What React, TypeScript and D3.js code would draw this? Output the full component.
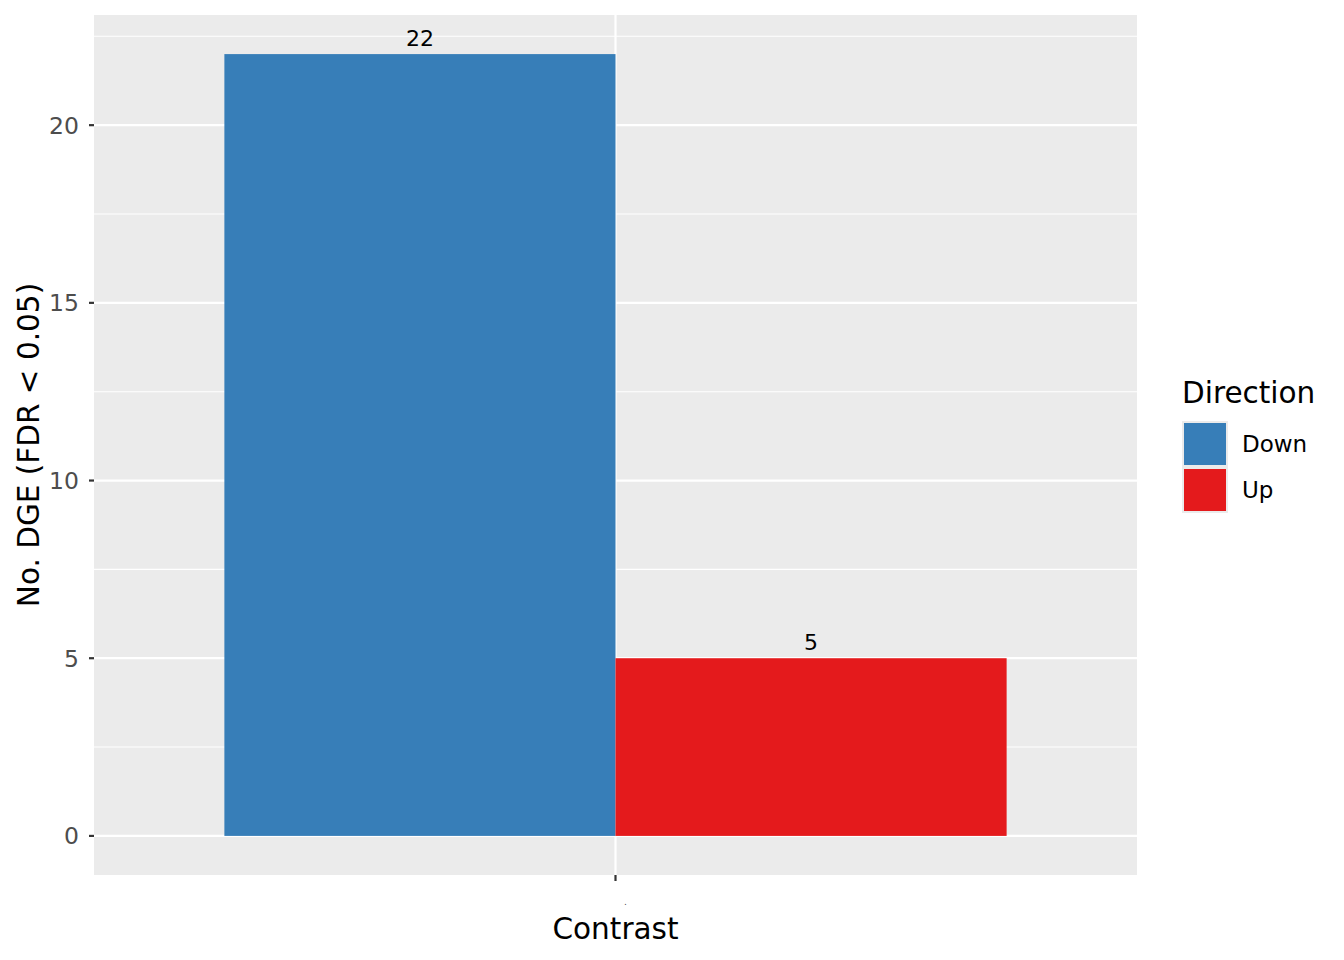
import React from "react";
import * as d3 from "d3";

const categories = [""];
const directions = ["Down", "Up"];
const values = [22, 5];
const colors = ["#377EB8", "#E41A1C"];
const yTicks = [0, 5, 10, 15, 20];
const yMinor = [2.5, 7.5, 12.5, 17.5, 22.5];

export default function App() {
  const W = 1344, H = 960;
  const left = 94, right = 1137, top = 15, bottom = 875;
  const y = d3.scaleLinear().domain([-1.1, 23.1]).range([bottom, top]);
  const x = d3.scaleLinear().domain([0.4, 1.6]).range([left, right]);
  const dodge = d3.scaleBand().domain(directions).range([0.55, 1.45]);
  const font = "DejaVu Sans, Liberation Sans, sans-serif";
  return (
    <div style={{ margin: -8 }}>
      <svg width={W} height={H} style={{ display: "block", fontFamily: font }}>
        <rect x={0} y={0} width={W} height={H} fill="#fff" />
        <rect x={left} y={top} width={right - left} height={bottom - top} fill="#EBEBEB" />
        {yMinor.map((t) => (
          <line key={"m" + t} x1={left} x2={right} y1={y(t)} y2={y(t)} stroke="#fff" strokeWidth={1.1} />
        ))}
        {yTicks.map((t) => (
          <line key={"g" + t} x1={left} x2={right} y1={y(t)} y2={y(t)} stroke="#fff" strokeWidth={2.2} />
        ))}
        {categories.map((c, i) => (
          <line key={"v" + i} x1={x(i + 1)} x2={x(i + 1)} y1={top} y2={bottom} stroke="#fff" strokeWidth={2.2} />
        ))}
        {directions.map((d, i) => {
          const x0 = x(dodge(d)!);
          const x1 = x(dodge(d)! + dodge.bandwidth());
          return (
            <g key={d}>
              <rect x={x0} y={y(values[i])} width={x1 - x0} height={y(0) - y(values[i])} fill={colors[i]} />
              <text x={(x0 + x1) / 2} y={y(values[i]) - 8} textAnchor="middle" fontSize={22} fill="#000">
                {values[i]}
              </text>
            </g>
          );
        })}
        {yTicks.map((t) => (
          <g key={"t" + t}>
            <line x1={left - 5} x2={left} y1={y(t)} y2={y(t)} stroke="#333" strokeWidth={2.2} />
            <text x={left - 15} y={y(t)} dy="0.36em" textAnchor="end" fontSize={23.5} fill="#4D4D4D">
              {t}
            </text>
          </g>
        ))}
        {categories.map((c, i) => (
          <g key={"xt" + i}>
            <line x1={x(i + 1)} x2={x(i + 1)} y1={bottom} y2={bottom + 6} stroke="#333" strokeWidth={2.2} />
            <text x={x(i + 1) + 10} y={bottom + 30} textAnchor="middle" fontSize={9} fill="#4D4D4D">.</text>
          </g>
        ))}
        <text x={615.5} y={939} textAnchor="middle" fontSize={29.5} fill="#000">Contrast</text>
        <text transform={`translate(39,${(top + bottom) / 2}) rotate(-90)`} textAnchor="middle" fontSize={29.5} fill="#000">
          No. DGE (FDR &lt; 0.05)
        </text>
        <text x={1182} y={403} fontSize={29.5} fill="#000">Direction</text>
        {directions.map((d, i) => (
          <g key={"l" + d}>
            <rect x={1182} y={421 + i * 46} width={46} height={46} fill="#EBEBEB" />
            <rect x={1184} y={423 + i * 46} width={42} height={42} fill={colors[i]} />
            <text x={1242} y={444 + i * 46} dy="0.36em" fontSize={23} fill="#000">{d}</text>
          </g>
        ))}
      </svg>
    </div>
  );
}
